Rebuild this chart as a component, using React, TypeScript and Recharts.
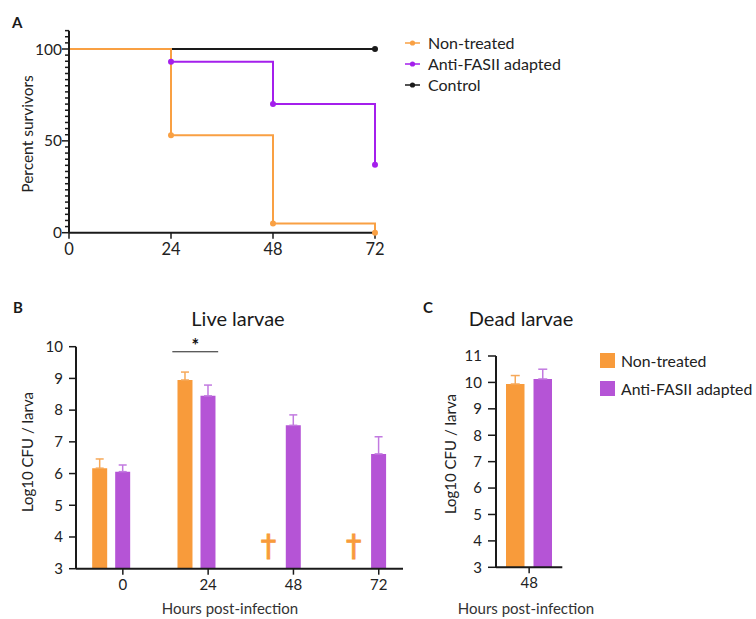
import React from 'react';
import {
  LineChart, Line, XAxis, YAxis, ComposedChart, Bar, BarChart, ErrorBar,
  Scatter, ReferenceLine, Legend,
} from 'recharts';

const FONT = 'Lato, "Open Sans", sans-serif';
const INK = '#1a1a1a';
const ORANGE_LINE = '#F9A043';
const PURPLE_LINE = '#A41FEC';
const ORANGE_BAR = '#F89B3B';
const PURPLE_BAR = '#B554D6';
const ORANGE_ERR = '#F6A95A';
const PURPLE_ERR = '#C27AE0';

// ---------- Panel A: survival ----------
const survivalHours = [0, 24, 48, 72];
const nonTreatedSurvival = [100, 53, 5, 0];
const antiFasiiSurvival = [100, 93, 70, 37];
const controlSurvival = [100, 100, 100, 100];
const survivalXTicks = [0, 24, 48, 72];
const survivalMajorYTicks = [0, 50, 100];
const survivalMinorStep = 10 / 3;
const survivalYMax = 110;
const survivalSeries = [
  { key: 'control', name: 'Control', color: INK },
  { key: 'antiFasii', name: 'Anti-FASII adapted', color: PURPLE_LINE },
  { key: 'nonTreated', name: 'Non-treated', color: ORANGE_LINE },
];
const survivalLegendOrder = ['nonTreated', 'antiFasii', 'control'];

// ---------- Panel B: live larvae ----------
const liveHours = [0, 24, 48, 72];
const liveNonTreated = [6.17, 8.95, null, null];
const liveNonTreatedErr = [0.29, 0.25, null, null];
const liveAnti = [6.06, 8.45, 7.52, 6.62];
const liveAntiErr = [0.21, 0.34, 0.33, 0.54];
const deadMarkHours = [48, 72];
const deadMarkLevel = 3.75;
const liveYTicks = [3, 4, 5, 6, 7, 8, 9, 10];
const sigSpan = [17.3, 30.2];
const sigLevel = 9.84;

// ---------- Panel C: dead larvae ----------
const deadHours = ['48'];
const deadNonTreated = [9.94];
const deadNonTreatedErr = [0.32];
const deadAnti = [10.13];
const deadAntiErr = [0.37];
const deadYTicks = [3, 4, 5, 6, 7, 8, 9, 10, 11];

const barLegend = [
  { name: 'Non-treated', color: ORANGE_BAR },
  { name: 'Anti-FASII adapted', color: PURPLE_BAR },
];

// ---------- derived tables ----------
const survivalData = survivalHours.map((h, i) => ({
  hour: h,
  nonTreated: nonTreatedSurvival[i],
  antiFasii: antiFasiiSurvival[i],
  control: controlSurvival[i],
}));
const survivalYTicks = Array.from(
  { length: Math.round(survivalYMax / survivalMinorStep) + 1 },
  (_, i) => (i * 10) / 3,
);

const liveData = liveHours.map((h, i) => ({
  hour: h,
  nonTreated: liveNonTreated[i],
  nonTreatedErr: liveNonTreatedErr[i] == null ? null : [0, liveNonTreatedErr[i]],
  anti: liveAnti[i],
  antiErr: [0, liveAntiErr[i]],
}));
const daggerData = deadMarkHours.map((h) => ({ hour: h, level: deadMarkLevel }));

const deadData = deadHours.map((h, i) => ({
  hour: h,
  nonTreated: deadNonTreated[i],
  nonTreatedErr: [0, deadNonTreatedErr[i]],
  anti: deadAnti[i],
  antiErr: [0, deadAntiErr[i]],
}));

// ---------- custom pieces ----------
const SurvivalYTick = (props: any) => {
  const { x, y, payload } = props;
  const v = payload.value;
  const major = survivalMajorYTicks.some((m) => Math.abs(m - v) < 1e-6);
  return (
    <g>
      <line x1={x} x2={x - (major ? 7 : 4)} y1={y} y2={y} stroke={INK} strokeWidth={1.5} />
      {major && (
        <text x={x - 7} y={y} dy="0.36em" textAnchor="end" fontSize={15.5} fill="#222" fontFamily={FONT}>
          {Math.round(v)}
        </text>
      )}
    </g>
  );
};

const makeSurvivalDot = (key: string, color: string) => (props: any) => {
  const { cx, cy, index, payload } = props;
  const last = index === survivalData.length - 1;
  const prev = index > 0 ? (survivalData as any)[index - 1][key] : null;
  if (index === 0 || (!last && prev === payload[key])) return <g key={`d-${key}-${index}`} />;
  return <circle key={`d-${key}-${index}`} cx={cx} cy={cy} r={3} fill={color} stroke="none" />;
};

const SurvivalLegend = () => (
  <div style={{ fontFamily: FONT }}>
    {survivalLegendOrder.map((k) => {
      const s = survivalSeries.find((q) => q.key === k)!;
      return (
        <div key={k} style={{ display: 'flex', alignItems: 'center', height: 21 }}>
          <svg width={24} height={10}>
            <line x1={1} x2={16} y1={5} y2={5} stroke={s.color} strokeWidth={1.5} />
            <circle cx={8.5} cy={5} r={2.6} fill={s.color} />
          </svg>
          <span style={{ fontSize: 16, color: '#222', lineHeight: '21px' }}>{s.name}</span>
        </div>
      );
    })}
  </div>
);

const BarLegend = () => (
  <div style={{ fontFamily: FONT }}>
    {barLegend.map((s) => (
      <div key={s.name} style={{ display: 'flex', alignItems: 'center', height: 28.5 }}>
        <div style={{ width: 15, height: 15, background: s.color, marginRight: 6 }} />
        <span style={{ fontSize: 15.8, color: '#222', whiteSpace: 'nowrap' }}>{s.name}</span>
      </div>
    ))}
  </div>
);

const LIVE_TICK_SHIFT = 12;
const LiveXTick = (props: any) => {
  const { x, y, payload } = props;
  const tx = x + LIVE_TICK_SHIFT;
  return (
    <g>
      <line x1={tx} x2={tx} y1={y} y2={y + 6} stroke={INK} strokeWidth={1.5} />
      <text x={tx} y={y + 21} textAnchor="middle" fontSize={15} fill="#222" fontFamily={FONT}>
        {payload.value}
      </text>
    </g>
  );
};

const DaggerShape = (props: any) => {
  const { cx, cy } = props;
  return (
    <text
      x={cx - 13}
      y={cy}
      dy="0.36em"
      textAnchor="middle"
      fontSize={31}
      fontFamily="DejaVu Sans"
      fill={ORANGE_BAR}
      stroke={ORANGE_BAR}
      strokeWidth={0.8}
    >
      †
    </text>
  );
};

const axisLineStyle = { stroke: INK, strokeWidth: 2 };
const tickLineStyle = { stroke: INK, strokeWidth: 1.5 };
const tickText = { fontSize: 15, fill: '#222', fontFamily: FONT };

export default function App() {
  return (
    <div style={{ position: 'absolute', left: 0, top: 0, width: 756, height: 619, background: '#fff', fontFamily: FONT, overflow: 'hidden' }}>
      {/* Panel A */}
      <div style={{ position: 'absolute', left: 0, top: 0 }}>
        <LineChart width={756} height={270} data={survivalData} margin={{ top: 30.63, right: 381, left: 29, bottom: 7.3 }}>
          <XAxis
            dataKey="hour"
            type="number"
            domain={[0, 72]}
            ticks={survivalXTicks}
            interval={0}
            height={30}
            axisLine={axisLineStyle}
            tickLine={tickLineStyle}
            tickSize={6}
            tickMargin={5}
            tick={{ ...tickText, fontSize: 16.5 }}
          />
          <YAxis
            type="number"
            domain={[0, survivalYMax]}
            ticks={survivalYTicks}
            interval={0}
            width={40}
            axisLine={axisLineStyle}
            tickLine={false}
            tickSize={0}
            tickMargin={0}
            tick={<SurvivalYTick />}
          />
          {survivalSeries.map((s) => (
            <Line
              key={s.key}
              dataKey={s.key}
              name={s.name}
              type="stepAfter"
              stroke={s.color}
              strokeWidth={2}
              dot={makeSurvivalDot(s.key, s.color)}
              activeDot={false}
              isAnimationActive={false}
            />
          ))}
          <Legend
            layout="vertical"
            align="center"
            verticalAlign="middle"
            wrapperStyle={{ left: 404, top: 32, width: 200 }}
            content={<SurvivalLegend />}
          />
        </LineChart>
      </div>

      {/* Panel B */}
      <div style={{ position: 'absolute', left: 0, top: 280 }}>
        <ComposedChart width={420} height={339} data={liveData} barGap={8} margin={{ top: 66.7, right: 17, left: 36, bottom: 20.3 }}>
          <XAxis
            dataKey="hour"
            type="number"
            domain={[-9.8, 82.2]}
            allowDataOverflow
            ticks={liveHours}
            interval={0}
            height={30}
            axisLine={axisLineStyle}
            tickLine={false}
            tickSize={0}
            tickMargin={0}
            tick={<LiveXTick />}
          />
          <YAxis
            type="number"
            domain={[3, 10]}
            ticks={liveYTicks}
            interval={0}
            width={40}
            allowDataOverflow
            axisLine={axisLineStyle}
            tickLine={tickLineStyle}
            tickSize={7}
            tickMargin={6}
            tick={tickText}
          />
          <Bar dataKey="nonTreated" fill={ORANGE_BAR} barSize={15} isAnimationActive={false}>
            <ErrorBar dataKey="nonTreatedErr" direction="y" width={4} stroke={ORANGE_ERR} strokeWidth={1.5} />
          </Bar>
          <Bar dataKey="anti" fill={PURPLE_BAR} barSize={15} isAnimationActive={false}>
            <ErrorBar dataKey="antiErr" direction="y" width={4} stroke={PURPLE_ERR} strokeWidth={1.5} />
          </Bar>
          <Scatter data={daggerData} dataKey="level" shape={<DaggerShape />} isAnimationActive={false} />
          <ReferenceLine
            segment={[{ x: sigSpan[0], y: sigLevel }, { x: sigSpan[1], y: sigLevel }]}
            stroke="#222"
            strokeWidth={1}
            ifOverflow="visible"
            label={{ value: '*', position: 'top', offset: 0, fontSize: 18, fill: '#111', fontWeight: 700 }}
          />
        </ComposedChart>
      </div>

      {/* Panel C */}
      <div style={{ position: 'absolute', left: 400, top: 280 }}>
        <BarChart width={356} height={339} data={deadData} barGap={9} margin={{ top: 76, right: 193.7, left: 56, bottom: 21.7 }}>
          <XAxis
            dataKey="hour"
            height={30}
            axisLine={axisLineStyle}
            tickLine={tickLineStyle}
            tickSize={6}
            tickMargin={4}
            tick={tickText}
          />
          <YAxis
            type="number"
            domain={[3, 11]}
            ticks={deadYTicks}
            interval={0}
            width={40}
            allowDataOverflow
            axisLine={axisLineStyle}
            tickLine={tickLineStyle}
            tickSize={8}
            tickMargin={6}
            tick={tickText}
          />
          <Bar dataKey="nonTreated" fill={ORANGE_BAR} barSize={18.5} isAnimationActive={false}>
            <ErrorBar dataKey="nonTreatedErr" direction="y" width={4.5} stroke={ORANGE_ERR} strokeWidth={1.5} />
          </Bar>
          <Bar dataKey="anti" fill={PURPLE_BAR} barSize={18.5} isAnimationActive={false}>
            <ErrorBar dataKey="antiErr" direction="y" width={4.5} stroke={PURPLE_ERR} strokeWidth={1.5} />
          </Bar>
          <Legend
            layout="vertical"
            align="center"
            verticalAlign="middle"
            wrapperStyle={{ left: 200, top: 66, width: 156 }}
            content={<BarLegend />}
          />
        </BarChart>
      </div>

      {/* Annotations */}
      <svg width={756} height={619} style={{ position: 'absolute', left: 0, top: 0, pointerEvents: 'none' }} fontFamily={FONT}>
        <text x={12} y={28} fontSize={15} fontWeight={700} fill={INK}>A</text>
        <text x={13} y={313} fontSize={15} fontWeight={700} fill={INK}>B</text>
        <text x={423} y={313} fontSize={15} fontWeight={700} fill={INK}>C</text>
        <text x={238} y={326} fontSize={20} textAnchor="middle" fill={INK}>Live larvae</text>
        <text x={521} y={326} fontSize={20} textAnchor="middle" fill={INK}>Dead larvae</text>
        <text transform="translate(27.5,134) rotate(-90)" fontSize={15.5} textAnchor="middle" dy="0.35em" fill="#222">Percent survivors</text>
        <text transform="translate(28,452) rotate(-90)" fontSize={15} textAnchor="middle" dy="0.35em" fill="#222">Log10 CFU / larva</text>
        <text transform="translate(451,454) rotate(-90)" fontSize={15} textAnchor="middle" dy="0.35em" fill="#222">Log10 CFU / larva</text>
        <text x={230} y={614} fontSize={15} textAnchor="middle" fill="#333">Hours post-infection</text>
        <text x={526} y={614} fontSize={15} textAnchor="middle" fill="#333">Hours post-infection</text>
      </svg>
    </div>
  );
}
